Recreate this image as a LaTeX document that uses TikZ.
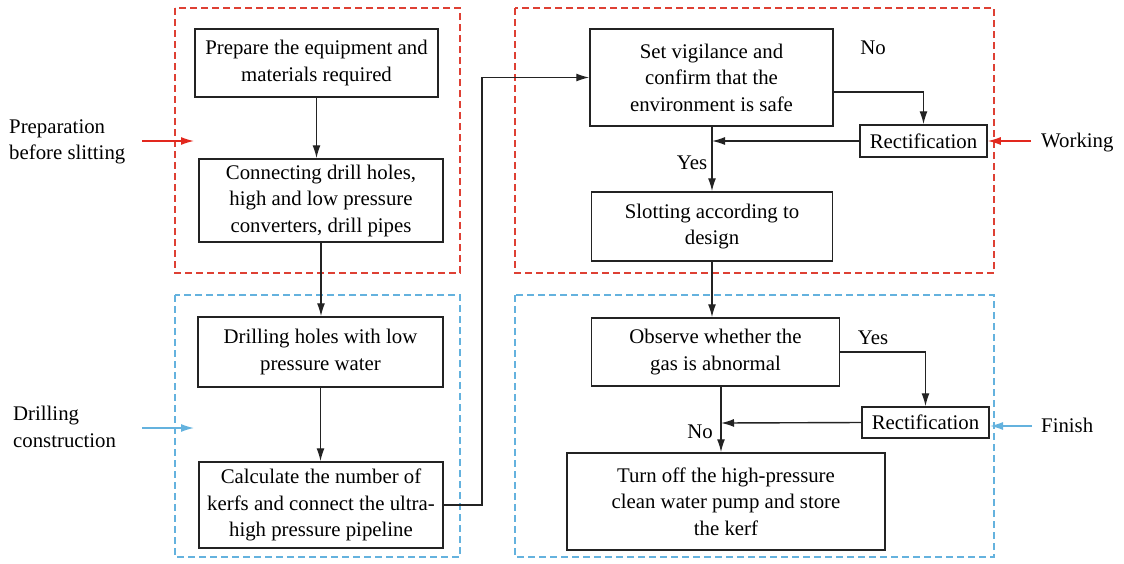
\documentclass[tikz,border=0pt]{standalone}
\usepackage{fontspec}
\setmainfont{Liberation Serif}
\usetikzlibrary{arrows.meta}
\definecolor{dred}{RGB}{222,64,52}
\definecolor{ared}{RGB}{226,40,30}
\definecolor{dblue}{RGB}{100,178,222}
\definecolor{lgray}{RGB}{35,35,35}
\tikzset{
  box/.style={draw=lgray,line width=1.5pt,inner sep=0pt,align=center,font=\fontsize{20.8}{26.5}\selectfont},
  lab/.style={inner sep=0pt,font=\fontsize{20.8}{26.5}\selectfont},
  flow/.style={draw=lgray,line width=1.4pt,-{Latex[length=13pt,width=8pt]}},
  rframe/.style={draw=dred,line width=1.3pt,dash pattern=on 7pt off 4pt},
  bframe/.style={draw=dblue,line width=1.3pt,dash pattern=on 7pt off 4pt},
  rarrow/.style={draw=ared,line width=1.3pt,-{Latex[length=13pt,width=8pt]}},
  barrow/.style={draw=dblue,line width=1.3pt,-{Latex[length=13pt,width=8pt]}},
}
\begin{document}
\begin{tikzpicture}[x=1pt,y=-1pt]
\useasboundingbox (0,0) rectangle (1124,563);
% frames
\draw[rframe] (175,8) rectangle (460,273);
\draw[bframe] (175,295) rectangle (460,557);
\draw[rframe] (515,8) rectangle (994,273);
\draw[bframe] (515,295) rectangle (994,557);
% boxes
\node[box,minimum width=243pt,minimum height=68pt] (b1) at (316.5,63) {Prepare the equipment and\\materials required};
\node[box,minimum width=244pt,minimum height=83pt] (b2) at (321,200.5) {Connecting drill holes,\\high and low pressure\\converters, drill pipes};
\node[box,minimum width=245pt,minimum height=70pt] (b3) at (320.5,352) {Drilling holes with low\\pressure water};
\node[box,minimum width=244pt,minimum height=86pt] (b4) at (321,505) {Calculate the number of\\kerfs and connect the ultra-\\high pressure pipeline};
\node[box,minimum width=243pt,minimum height=97pt] (b5) at (711.5,77.5) {Set vigilance and\\confirm that the\\environment is safe};
\node[box,minimum width=241pt,minimum height=69pt] (b6) at (712,226.5) {Slotting according to\\design};
\node[box,minimum width=248pt,minimum height=68pt] (b7) at (715.5,352) {Observe whether the\\gas is abnormal};
\node[box,minimum width=318pt,minimum height=97pt] (b8) at (726,501.5) {Turn off the high-pressure\\clean water pump and store\\the kerf};
\node[box,minimum width=127pt,minimum height=32pt] (r1) at (923.5,141) {Rectification};
\node[box,minimum width=127pt,minimum height=31pt] (r2) at (925.5,422.5) {Rectification};
% side labels
\node[lab,anchor=west,align=left] (l1) at (9,142) {Preparation\\before slitting};
\node[lab,anchor=west,align=left] (l2) at (13,427) {Drilling\\construction};
\node[lab,anchor=west] (l3) at (1041,143) {Working};
\node[lab,anchor=west] (l4) at (1041,425) {Finish};
% coordinates
\coordinate (a1s) at (142,141);
\coordinate (a1e) at (194,141);
\coordinate (a2s) at (142,428);
\coordinate (a2e) at (194,428);
\coordinate (a3s) at (1031,141);
\coordinate (a4s) at (1032,426);
\coordinate (a4e) at (990,426);
\coordinate (jn) at (482,505);
\coordinate (m1) at (712,141);
\coordinate (m2) at (721,423);
% side arrows
\draw[rarrow] (a1s) -- (a1e);
\draw[barrow] (a2s) -- (a2e);
\draw[rarrow] (a3s) -- (r1.east);
\draw[barrow] (a4s) -- (a4e);
% flow
\draw[flow] (b1.south) -- (b1.south |- b2.north);
\draw[flow] (b2.south) -- (b2.south |- b3.north);
\draw[flow] (b3.south) -- (b3.south |- b4.north);
\draw[flow] (b4.east) -- (jn) |- (b5.west);
\draw[flow] ([yshift=-14.5pt]b5.east) -| (r1.north);
\draw[flow] (r1.west) -- (m1);
\draw[flow] (m1 |- b5.south) -- (m1 |- b6.north);
\draw[flow] (b6.south) -- (b6.south |- b7.north);
\draw[flow] (b7.east) -| (r2.north);
\draw[flow] (r2.west) -- (m2);
\draw[flow] (m2 |- b7.south) -- (m2 |- b8.north);
% yes/no labels
\node[lab] (n1) at (873,48) {No};
\node[lab] (y1) at (692,163) {Yes};
\node[lab] (y2) at (873,338) {Yes};
\node[lab] (n2) at (700,432) {No};
\end{tikzpicture}
\end{document}
